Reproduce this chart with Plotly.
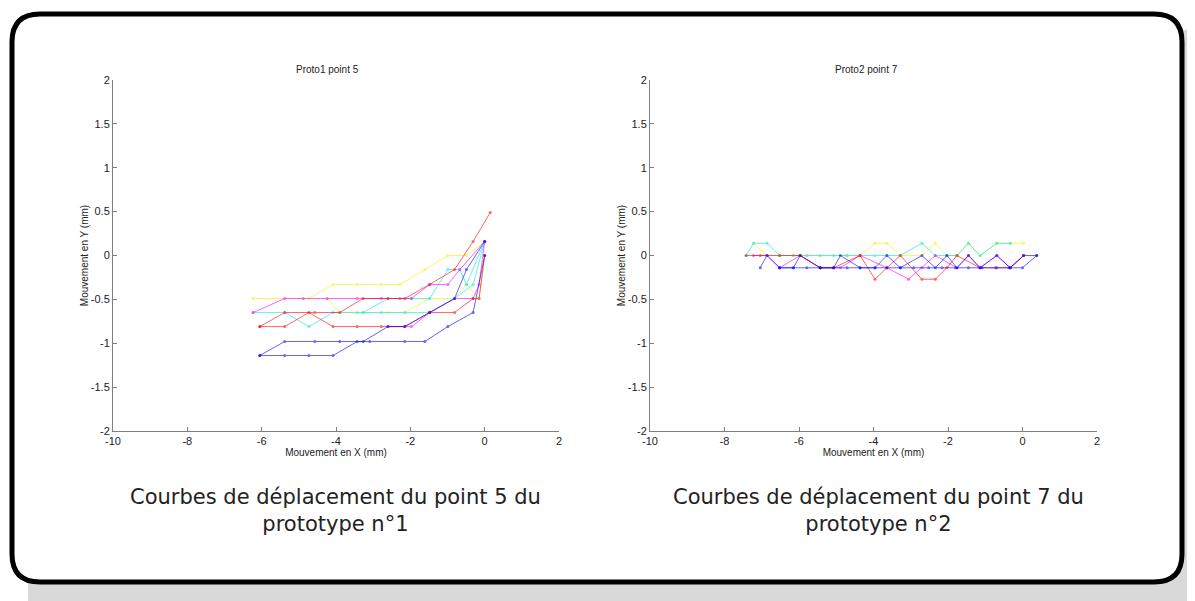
import plotly.graph_objects as go

# ---------------- data: Proto1 point 5 ----------------
p1_yellow_a_x = [-6.23, -4.73, -4.08, -3.43, -2.78, -2.28, -1.61, -0.99, -0.49, 0.0]
p1_yellow_a_y = [-0.49, -0.49, -0.33, -0.33, -0.33, -0.33, -0.16, 0.0, 0.0, 0.16]
p1_yellow_b_x = [-4.24, -3.9, -3.27, -2.6, -2.15, -1.48, -0.81, -0.49, -0.15, 0.0]
p1_yellow_b_y = [-0.49, -0.65, -0.65, -0.65, -0.65, -0.49, -0.49, -0.33, -0.49, 0.0]
p1_magenta_a_x = [-6.23, -5.38, -4.88, -4.24, -3.43, -2.78, -2.28, -1.97, -1.48, -0.99, -0.67, 0.0]
p1_magenta_a_y = [-0.65, -0.49, -0.49, -0.49, -0.49, -0.49, -0.49, -0.49, -0.33, -0.33, -0.16, 0.16]
p1_magenta_b_x = [-2.6, -1.97, -1.48, -0.81, -0.31, -0.15, 0.0]
p1_magenta_b_y = [-0.81, -0.81, -0.65, -0.49, -0.49, -0.33, 0.16]
p1_cyan_a_x = [-6.23, -5.38, -4.73, -4.08, -3.43, -2.78, -2.15, -1.48, -0.81, -0.31, 0.0]
p1_cyan_a_y = [-0.65, -0.65, -0.81, -0.65, -0.65, -0.65, -0.65, -0.65, -0.49, -0.33, 0.16]
p1_cyan_b_x = [-3.27, -2.6, -1.97, -1.48, -0.99, -0.67, -0.49, 0.0]
p1_cyan_b_y = [-0.65, -0.49, -0.49, -0.49, -0.16, -0.16, -0.33, 0.16]
p1_red_a_x = [-6.05, -5.38, -4.57, -3.9, -3.27, -2.6, -2.15, -1.48, -0.81, -0.31, 0.15]
p1_red_a_y = [-0.81, -0.65, -0.65, -0.65, -0.49, -0.49, -0.49, -0.33, -0.16, 0.16, 0.49]
p1_red_b_x = [-6.05, -5.38, -4.73, -4.08, -3.43, -2.78, -2.15, -1.48, -0.81, -0.31, -0.15, 0.0]
p1_red_b_y = [-0.81, -0.81, -0.65, -0.81, -0.81, -0.81, -0.81, -0.65, -0.65, -0.49, -0.49, 0.0]
p1_blue_a_x = [-6.05, -5.38, -4.73, -4.08, -3.43, -3.09, -2.15, -1.61, -0.99, -0.31, 0.0]
p1_blue_a_y = [-1.14, -1.14, -1.14, -1.14, -0.98, -0.98, -0.98, -0.98, -0.81, -0.65, 0.0]
p1_blue_b_x = [-6.05, -5.38, -4.57, -3.9, -3.27, -2.6, -2.15, -1.48, -0.81, -0.49, 0.0]
p1_blue_b_y = [-1.14, -0.98, -0.98, -0.98, -0.98, -0.81, -0.81, -0.65, -0.49, -0.16, 0.16]

# ---------------- data: Proto2 point 7 ----------------
p2_cyan_x = [-7.42, -7.22, -6.86, -6.52, -6.15, -5.79, -5.43, -5.07, -4.71, -4.36, -3.96, -3.64, -3.28, -2.70, -2.34, -2.03, -1.76, -1.45, -1.14, -0.69, -0.33]
p2_cyan_y = [0.0, 0.14, 0.14, 0.0, 0.0, 0.0, 0.0, 0.0, 0.0, 0.0, 0.0, 0.0, 0.0, 0.14, 0.0, 0.0, 0.0, 0.14, 0.0, 0.14, 0.14]
p2_yellow_x = [-7.22, -6.86, -6.52, -6.15, -5.79, -5.43, -4.71, -4.36, -3.96, -3.64, -3.28, -2.70, -2.34, -2.03, -1.76, -1.45, -1.14, -0.69, -0.33, 0.03]
p2_yellow_y = [0.14, 0.0, 0.0, 0.0, 0.0, 0.0, 0.0, 0.0, 0.14, 0.14, 0.0, 0.0, 0.14, 0.0, 0.0, 0.14, 0.0, 0.14, 0.14, 0.14]
p2_red_x = [-7.42, -7.04, -6.52, -5.97, -5.43, -5.07, -4.36, -3.96, -3.64, -3.28, -2.70, -2.34, -2.03, -1.76, -1.14, -0.69, -0.33, 0.03]
p2_red_y = [0.0, 0.0, 0.0, 0.0, -0.14, -0.14, 0.0, -0.27, -0.14, 0.0, -0.27, -0.27, -0.14, 0.0, -0.14, -0.14, -0.14, 0.0]
p2_magenta_x = [-7.22, -6.86, -6.52, -5.97, -5.43, -4.89, -4.36, -3.64, -3.06, -2.70, -2.34, -1.76, -1.45, -1.14, -0.69, -0.33, 0.03]
p2_magenta_y = [0.0, 0.0, -0.14, 0.0, -0.14, -0.14, 0.0, -0.14, -0.27, -0.14, 0.0, -0.14, 0.0, -0.14, 0.0, -0.14, 0.0]
p2_blue_a_x = [-7.04, -6.86, -6.52, -6.15, -5.97, -5.43, -5.07, -4.89, -4.36, -3.96, -3.64, -3.28, -2.70, -2.34, -2.03, -1.76, -1.45, -1.14, -0.69, -0.33, 0.03, 0.38]
p2_blue_a_y = [-0.14, 0.0, -0.14, -0.14, 0.0, -0.14, -0.14, 0.0, -0.14, -0.14, 0.0, -0.14, 0.0, -0.14, 0.0, -0.14, 0.0, -0.14, 0.0, -0.14, 0.0, 0.0]
p2_blue_b_x = [-6.52, -6.15, -5.79, -5.43, -5.07, -4.71, -4.36, -3.96, -3.64, -3.28, -2.92, -2.52, -2.16, -1.80, -1.45, -1.08, -0.72, -0.36, 0.0, 0.38]
p2_blue_b_y = [-0.14, -0.14, -0.14, -0.14, -0.14, -0.14, -0.14, -0.14, -0.14, -0.14, -0.14, -0.14, -0.14, -0.14, -0.14, -0.14, -0.14, -0.14, -0.14, 0.0]

x_ticks = [-10, -8, -6, -4, -2, 0, 2]
x_tick_text = ["-10", "-8", "-6", "-4", "-2", "0", "2"]
y_ticks = [-2, -1.5, -1, -0.5, 0, 0.5, 1, 1.5, 2]
y_tick_text = ["-2", "-1.5", "-1", "-0.5", "0", "0.5", "1", "1.5", "2"]

COL = {"y": "#f2f200", "m": "#ff00ff", "c": "#00e8e8", "r": "#ff0000", "b": "#0000ff"}

p1_series = [
    ("y", p1_yellow_a_x, p1_yellow_a_y), ("y", p1_yellow_b_x, p1_yellow_b_y),
    ("c", p1_cyan_a_x, p1_cyan_a_y), ("c", p1_cyan_b_x, p1_cyan_b_y),
    ("m", p1_magenta_a_x, p1_magenta_a_y), ("m", p1_magenta_b_x, p1_magenta_b_y),
    ("r", p1_red_a_x, p1_red_a_y), ("r", p1_red_b_x, p1_red_b_y),
    ("b", p1_blue_a_x, p1_blue_a_y), ("b", p1_blue_b_x, p1_blue_b_y),
]
p2_series = [
    ("y", p2_yellow_x, p2_yellow_y), ("c", p2_cyan_x, p2_cyan_y),
    ("m", p2_magenta_x, p2_magenta_y), ("r", p2_red_x, p2_red_y),
    ("b", p2_blue_a_x, p2_blue_a_y), ("b", p2_blue_b_x, p2_blue_b_y),
]

W, H = 1195, 601
OFF = 8  # page body margin offset
fig = go.Figure()

for c, xs, ys in p1_series:
    fig.add_trace(go.Scatter(x=xs, y=ys, mode="lines+markers", xaxis="x", yaxis="y",
                             line=dict(color=COL[c], width=1), marker=dict(color=COL[c], size=3),
                             opacity=0.6, showlegend=False, hoverinfo="skip"))
for c, xs, ys in p2_series:
    fig.add_trace(go.Scatter(x=xs, y=ys, mode="lines+markers", xaxis="x2", yaxis="y2",
                             line=dict(color=COL[c], width=1), marker=dict(color=COL[c], size=3),
                             opacity=0.6, showlegend=False, hoverinfo="skip"))

def px(v):
    return (v - OFF) / W

def py(v):
    return 1 - (v - OFF) / H

ydom = [py(431), py(80)]
axis_common = dict(showgrid=False, zeroline=False, showline=True, linecolor="#808080", linewidth=1,
                   ticks="inside", ticklen=4, tickcolor="#808080", mirror=False, automargin=False,
                   tickfont=dict(family="Liberation Sans, Arial", size=11, color="#222"))
xtitle = dict(text="Mouvement en X (mm)", font=dict(family="Liberation Sans, Arial", size=10, color="#222"), standoff=2)
ytitle = dict(text="Mouvement en Y (mm)", font=dict(family="Liberation Sans, Arial", size=10, color="#222"), standoff=0)

fig.update_layout(
    width=W, height=H, margin=dict(l=0, r=0, t=0, b=0, pad=0, autoexpand=False),
    paper_bgcolor="white", plot_bgcolor="rgba(0,0,0,0)", showlegend=False,
    xaxis=dict(domain=[px(113), px(559)], range=[-10, 2], tickvals=x_ticks, ticktext=x_tick_text, anchor="y", title=xtitle, **axis_common),
    yaxis=dict(domain=ydom, range=[-2, 2], tickvals=y_ticks, ticktext=y_tick_text, anchor="x", title=ytitle, **axis_common),
    xaxis2=dict(domain=[px(650), px(1097)], range=[-10, 2], tickvals=x_ticks, ticktext=x_tick_text, anchor="y2", title=xtitle, **axis_common),
    yaxis2=dict(domain=ydom, range=[-2, 2], tickvals=y_ticks, ticktext=y_tick_text, anchor="x2", title=ytitle, **axis_common),
)

def rounded(x0, y0, x1, y1, r):
    rx, ry = r / W, r / H
    X0, X1 = px(x0), px(x1)
    Y0, Y1 = py(y0), py(y1)  # Y0 top (larger), Y1 bottom
    return (f"M {X0+rx},{Y0} L {X1-rx},{Y0} Q {X1},{Y0} {X1},{Y0-ry} "
            f"L {X1},{Y1+ry} Q {X1},{Y1} {X1-rx},{Y1} L {X0+rx},{Y1} "
            f"Q {X0},{Y1} {X0},{Y1+ry} L {X0},{Y0-ry} Q {X0},{Y0} {X0+rx},{Y0} Z")

fig.add_shape(type="path", xref="paper", yref="paper", layer="below",
              path=rounded(28, 30, 1230, 640, 28), fillcolor="#d9d9d9", line=dict(width=0))
fig.add_shape(type="path", xref="paper", yref="paper", layer="below",
              path=rounded(12, 14, 1182, 582, 28), fillcolor="white", line=dict(color="black", width=5))

title_font = dict(family="Liberation Sans, Arial", size=10, color="#222")
fig.add_annotation(x=px(327), y=py(69), xref="paper", yref="paper", text="Proto1 point 5",
                   showarrow=False, font=title_font, xanchor="center", yanchor="middle")
fig.add_annotation(x=px(866), y=py(69), xref="paper", yref="paper", text="Proto2 point 7",
                   showarrow=False, font=title_font, xanchor="center", yanchor="middle")

cap_font = dict(family="DejaVu Sans", size=21, color="#222")
fig.add_annotation(x=px(335), y=py(510), xref="paper", yref="paper",
                   text="Courbes de déplacement du point 5 du<br>prototype n°1",
                   showarrow=False, font=cap_font, align="center", xanchor="center", yanchor="middle")
fig.add_annotation(x=px(878), y=py(510), xref="paper", yref="paper",
                   text="Courbes de déplacement du point 7 du<br>prototype n°2",
                   showarrow=False, font=cap_font, align="center", xanchor="center", yanchor="middle")

fig.write_html("out.html")
